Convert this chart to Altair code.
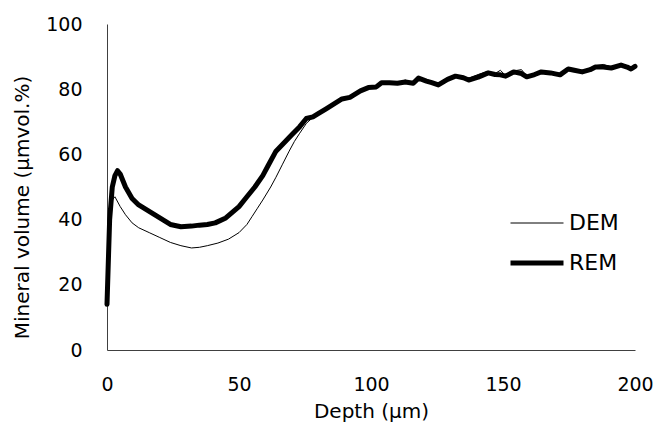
import altair as alt
import pandas as pd

rem_depth = [0, 1, 2, 3, 4, 5, 7, 9.5, 12, 16, 20, 24, 28, 32, 35, 38, 41, 45, 50, 53, 56, 59, 61, 64, 67, 70, 73, 75.5, 78, 80, 83, 86, 89, 92, 96, 99, 102, 104, 107, 110, 113, 116, 118, 121, 123, 125.5, 129, 132, 135, 137, 140.6, 144.4, 147, 149, 151, 154, 157, 159, 162, 164.5, 168, 171.6, 174.7, 177, 180, 183, 185, 188, 191, 194.7, 197, 198.5, 200]
rem_value = [14, 40, 50, 53.5, 55, 54, 50, 46.5, 44.5, 42.5, 40.5, 38.5, 37.8, 38, 38.3, 38.5, 39, 40.5, 44, 47, 50, 53.5, 56.5, 61, 63.5, 66, 68.5, 71, 71.5, 72.5, 74, 75.5, 77, 77.5, 79.5, 80.5, 80.7, 82, 82, 81.8, 82.2, 81.8, 83.4, 82.5, 82, 81.3, 83, 84, 83.5, 82.8, 83.7, 85, 84.5, 84.4, 84, 85.3, 84.8, 83.8, 84.5, 85.3, 85, 84.4, 86.2, 85.8, 85.3, 86, 86.8, 86.8, 86.5, 87.4, 86.8, 86.2, 87]

dem_depth = [0, 1, 2, 3, 5, 7, 9.5, 12, 16, 20, 24, 28, 32, 35, 38, 42, 46, 50, 53, 55, 57, 59, 62, 64, 66.5, 69, 71, 73, 75.5, 77.5, 80, 83, 86, 89, 92, 96, 99, 102, 104, 107, 110, 113, 116, 118, 121, 123, 125.5, 129, 132, 135, 137, 140.6, 144.4, 147, 149, 151, 154, 157, 159, 162, 164.5, 168, 171.6, 174.7, 177, 180, 183, 185, 188, 191, 194.7, 197, 198.5, 200]
dem_value = [14, 40, 46, 47, 44, 41.5, 39, 37.5, 36, 34.5, 33, 32, 31.3, 31.5, 32, 32.8, 34, 36, 38.5, 41, 43.5, 46, 50, 53, 57, 61, 64, 66.5, 69.5, 71, 72.3, 74, 75.5, 77.3, 77.5, 79.8, 80.8, 81, 82.3, 82.3, 82, 82.8, 82, 83.6, 82.5, 82, 81.5, 83.5, 84.3, 83.5, 83.4, 84.5, 85.5, 84.8, 85.8, 84.2, 85.6, 86, 84, 85, 85.5, 85.3, 84.8, 86.5, 86, 85.8, 86.3, 87.2, 87.6, 86.8, 87.4, 86.8, 86.5, 87]

series_names = ["DEM", "REM"]

df = pd.concat([
    pd.DataFrame({"depth": dem_depth, "value": dem_value, "series": "DEM"}),
    pd.DataFrame({"depth": rem_depth, "value": rem_value, "series": "REM"}),
])

FONT = "DejaVu Sans"
FS = 19

chart = alt.Chart(df).mark_line(color="black", strokeCap="round", strokeJoin="round").encode(
    x=alt.X("depth:Q", title="Depth (μm)",
            scale=alt.Scale(domain=[0, 200], nice=False),
            axis=alt.Axis(values=[0, 50, 100, 150, 200], grid=False, ticks=False,
                          labelFlush=False, labelPadding=25, titlePadding=7,
                          titleFontSize=20)),
    y=alt.Y("value:Q", title="Mineral volume (μmvol.%)",
            scale=alt.Scale(domain=[0, 100], nice=False),
            axis=alt.Axis(values=[0, 20, 40, 60, 80, 100], grid=False, ticks=False,
                          labelFlush=False, labelPadding=25, titlePadding=13,
                          titleFontSize=20, titleY=183)),
    strokeWidth=alt.StrokeWidth("series:N",
        scale=alt.Scale(domain=series_names, range=[1, 5]),
        legend=alt.Legend(title=None, orient="none", legendX=401, legendY=172,
                          symbolType="stroke", symbolSize=2809, symbolStrokeColor="black",
                          labelFontSize=22, labelFont=FONT, labelColor="black",
                          labelOffset=3, rowPadding=-10)),
    detail="series:N",
).properties(
    width=528, height=326,
    autosize=alt.AutoSizeParams(type="none"),
    padding={"left": 99, "top": 16, "right": 18, "bottom": 74},
).configure_axis(
    labelFont=FONT, titleFont=FONT, labelFontSize=FS, titleFontSize=FS,
    labelColor="black", titleColor="black", titleFontWeight="normal",
    domainColor="#404040", domainWidth=1,
).configure_view(stroke=None)

chart.save("out.html", embed_options={"renderer": "svg", "actions": False})
